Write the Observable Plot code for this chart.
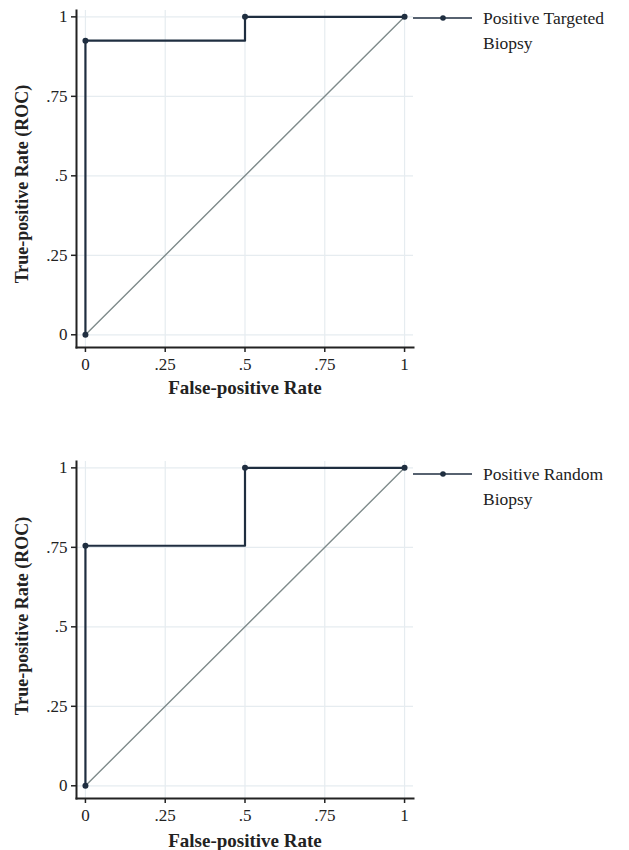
<!DOCTYPE html>
<html>
<head>
<meta charset="utf-8">
<script src="https://cdn.jsdelivr.net/npm/d3@7"></script>
<script src="https://cdn.jsdelivr.net/npm/@observablehq/plot@0.6"></script>
<style>
  html, body { margin: 0; padding: 0; background: #fff; }
  .panel { position: relative; width: 629px; }
  .legend { position: absolute; left: 413px; font-family: "Liberation Serif", serif; font-size: 17.5px; color: #222; }
  .legend svg { position: absolute; left: 0; top: 0; }
  .legend .txt { position: absolute; left: 70px; top: -12px; line-height: 25px; white-space: nowrap; }
</style>
</head>
<body>
<div id="root"></div>
<script>
// ---- data ----
const fprTargeted = [0, 0, 0.5, 1];
const tprTargeted = [0, 0.925, 1, 1];
const fprRandom = [0, 0, 0.5, 1];
const tprRandom = [0, 0.755, 1, 1];
const chanceFpr = [0, 1];
const chanceTpr = [0, 1];
const tickValues = [0, 0.25, 0.5, 0.75, 1];
const tickLabels = ["0", ".25", ".5", ".75", "1"];
const legendLines1 = ["Positive Targeted", "Positive Random"];
const legendLines2 = ["Biopsy", "Biopsy"];
const xTitle = "False-positive Rate";
const yTitle = "True-positive Rate (ROC)";

const rocColor = "#1f2e40";
const chanceColor = "#7f8b8b";
const gridColor = "#e6ecf0";
const fmt = d => tickLabels[tickValues.indexOf(d)];

function panel(fpr, tpr, cfg) {
  const roc = fpr.map((x, i) => ({x, y: tpr[i]}));
  const chance = chanceFpr.map((x, i) => ({x, y: chanceTpr[i]}));
  return Plot.plot({
    width: 629,
    height: cfg.height,
    marginLeft: 76,
    marginRight: 216,
    marginTop: cfg.marginTop,
    marginBottom: cfg.marginBottom,
    style: {fontFamily: "'Liberation Serif', serif", fontSize: "17px", color: "#222", background: "#fff"},
    x: {domain: [-0.028, 1.028]},
    y: {domain: [-0.04, 1.02]},
    marks: [
      Plot.gridX(tickValues, {stroke: gridColor, strokeOpacity: 1, strokeWidth: 1.2}),
      Plot.gridY(tickValues, {stroke: gridColor, strokeOpacity: 1, strokeWidth: 1.2}),
      Plot.axisX(tickValues, {tickFormat: fmt, tickSize: 5, tickPadding: 5, label: null, stroke: "#222", strokeWidth: 1.5, fontSize: 17}),
      Plot.axisY(tickValues, {tickFormat: fmt, tickSize: 5, tickPadding: 4, label: null, stroke: "#222", strokeWidth: 1.5, fontSize: 17}),
      Plot.frame({anchor: "left", stroke: "#222", strokeWidth: 2}),
      Plot.frame({anchor: "bottom", stroke: "#222", strokeWidth: 2}),
      Plot.line(chance, {x: "x", y: "y", stroke: chanceColor, strokeWidth: 1.4}),
      Plot.line(roc, {x: "x", y: "y", curve: "step-after", stroke: rocColor, strokeWidth: 2.2}),
      Plot.dot(roc, {x: "x", y: "y", r: 3, fill: rocColor, stroke: null}),
      Plot.text([xTitle], {frameAnchor: "bottom", dy: cfg.xTitleDy, fontWeight: "bold", fontSize: 19, fill: "#222"}),
      Plot.text([yTitle], {frameAnchor: "left", dx: -54, dy: cfg.yTitleDy, rotate: -90, fontWeight: "bold", fontSize: 18, fill: "#222", textAnchor: "middle"})
    ]
  });
}

function legend(line1, line2, top) {
  const div = document.createElement("div");
  div.className = "legend";
  div.style.top = top + "px";
  div.innerHTML = `<svg width="62" height="8" style="top:-4px"><line x1="0" y1="4" x2="59" y2="4" stroke="${rocColor}" stroke-width="1.4"/><circle cx="30" cy="4" r="2.8" fill="${rocColor}"/></svg><div class="txt">${line1}<br>${line2}</div>`;
  return div;
}

const root = document.getElementById("root");
const p1 = document.createElement("div"); p1.className = "panel";
p1.appendChild(panel(fprTargeted, tprTargeted, {height: 420, marginTop: 10, marginBottom: 73, xTitleDy: 46, yTitleDy: 5}));
p1.appendChild(legend(legendLines1[0], legendLines2[0], 18));
root.appendChild(p1);

const p2 = document.createElement("div"); p2.className = "panel";
p2.appendChild(panel(fprRandom, tprRandom, {height: 430, marginTop: 41, marginBottom: 52, xTitleDy: 48, yTitleDy: -14}));
p2.appendChild(legend(legendLines1[1], legendLines2[1], 54));
root.appendChild(p2);
</script>
</body>
</html>
